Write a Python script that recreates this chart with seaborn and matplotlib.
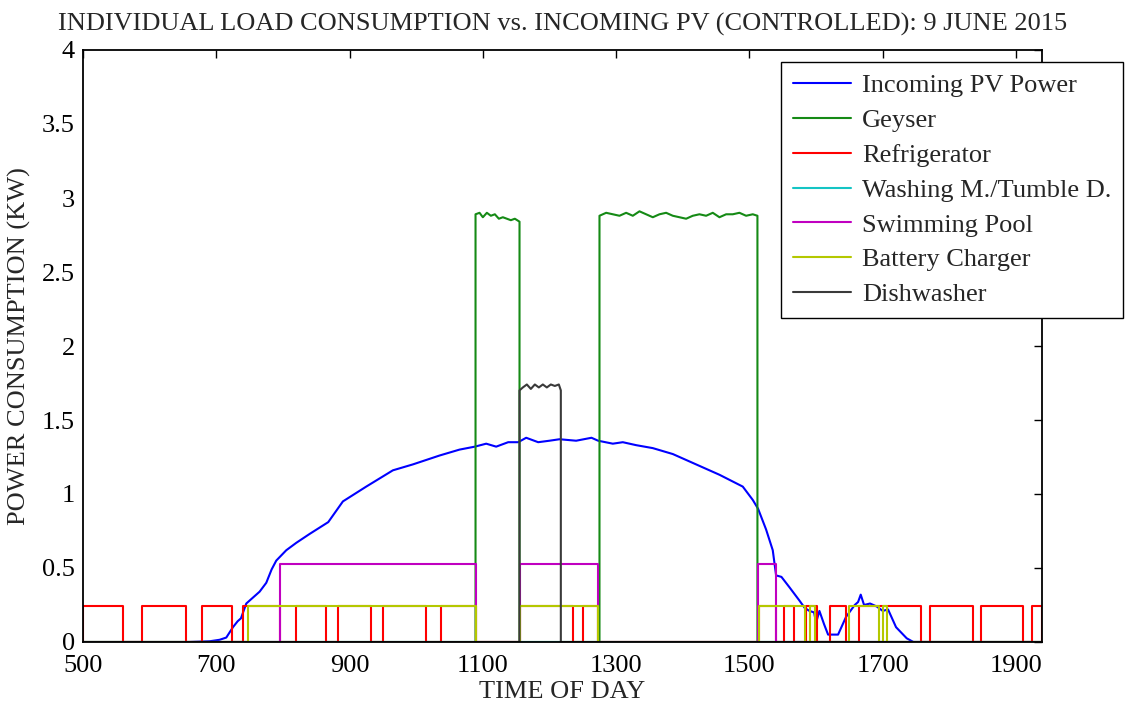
import matplotlib
matplotlib.use("Agg")
import matplotlib.pyplot as plt
import pandas as pd
import seaborn as sns

# ---------------------------------------------------------------------------
# Measured data, 9 June 2015 (time of day as HHMM-style number, power in kW)
# ---------------------------------------------------------------------------
t_start, t_end = 500, 1939

# Incoming PV power
pv_time = [660, 690, 705, 715, 725, 732, 737, 745, 755, 765, 775, 783, 790,
           805, 820, 840, 868, 890, 925, 965, 995, 1035, 1065, 1088, 1105,
           1120, 1138, 1153, 1165, 1183, 1200, 1215, 1240, 1263, 1273, 1295,
           1310, 1330, 1355, 1385, 1415, 1455, 1490, 1505, 1513, 1525, 1535,
           1540, 1548, 1560, 1575, 1583, 1590, 1597, 1600, 1605, 1612, 1618,
           1633, 1645, 1658, 1663, 1667, 1672, 1681, 1691, 1700, 1708, 1720,
           1736, 1746, 1760]
pv_kw = [0.0, 0.005, 0.015, 0.03, 0.10, 0.14, 0.16, 0.26, 0.30, 0.34, 0.40,
         0.49, 0.55, 0.62, 0.67, 0.73, 0.81, 0.95, 1.05, 1.16, 1.20, 1.26,
         1.30, 1.32, 1.34, 1.32, 1.35, 1.35, 1.38, 1.35, 1.36, 1.37, 1.36,
         1.38, 1.36, 1.34, 1.35, 1.33, 1.31, 1.27, 1.21, 1.13, 1.05, 0.96,
         0.90, 0.76, 0.62, 0.45, 0.44, 0.37, 0.28, 0.23, 0.21, 0.20, 0.13,
         0.21, 0.12, 0.05, 0.05, 0.17, 0.25, 0.27, 0.32, 0.25, 0.26, 0.24,
         0.21, 0.22, 0.10, 0.025, 0.0, 0.0]

# Geyser: two heating periods, readings while on
geyser_time_1 = [1089, 1095, 1100, 1106, 1112, 1118, 1124, 1130, 1136, 1142,
                 1148, 1155]
geyser_kw_1 = [2.89, 2.90, 2.87, 2.90, 2.88, 2.89, 2.86, 2.87, 2.86, 2.85,
               2.86, 2.84]
geyser_time_2 = [1275, 1285, 1295, 1305, 1315, 1325, 1335, 1345, 1355, 1365,
                 1375, 1385, 1395, 1405, 1415, 1425, 1435, 1445, 1455, 1465,
                 1475, 1485, 1495, 1505, 1512]
geyser_kw_2 = [2.88, 2.90, 2.89, 2.88, 2.90, 2.88, 2.91, 2.89, 2.87, 2.89,
               2.90, 2.88, 2.87, 2.86, 2.88, 2.89, 2.88, 2.90, 2.87, 2.89,
               2.89, 2.90, 2.88, 2.89, 2.88]

# Refrigerator compressor cycles (on from, on until)
fridge_on = [(500, 560), (588, 655), (678, 724), (740, 796), (820, 865),
             (883, 932), (950, 1014), (1037, 1089), (1155, 1235),
             (1251, 1273), (1514, 1540), (1552, 1567), (1585, 1601),
             (1621, 1645), (1664, 1758), (1771, 1835), (1848, 1910),
             (1924, 1939)]
fridge_kw = 0.24

# Washing machine / tumble dryer: not run on this day
washing_on = []
washing_kw = 0.0

# Swimming pool pump
pool_on = [(796, 1089), (1155, 1273), (1513, 1540)]
pool_kw = 0.53

# Battery charger
battery_on = [(748, 1089), (1155, 1273), (1514, 1583), (1591, 1598),
              (1650, 1694), (1701, 1706)]
battery_kw = 0.24

# Dishwasher
dish_time = [1155, 1160, 1166, 1172, 1178, 1184, 1190, 1196, 1202, 1208,
             1214, 1217]
dish_kw = [1.70, 1.72, 1.74, 1.71, 1.74, 1.72, 1.74, 1.72, 1.74, 1.73,
           1.74, 1.70]

x_ticks = [500, 700, 900, 1100, 1300, 1500, 1700, 1900]
y_ticks = [0, 0.5, 1, 1.5, 2, 2.5, 3, 3.5, 4]
y_tick_labels = ["0", "0.5", "1", "1.5", "2", "2.5", "3", "3.5", "4"]


def trace_from_blocks(blocks):
    """Polyline for a load that is either off (0 kW) or running with readings."""
    xs, ys = [t_start], [0.0]
    for times, values in blocks:
        xs += [times[0]] + list(times) + [times[-1]]
        ys += [0.0] + list(values) + [0.0]
    xs.append(t_end)
    ys.append(0.0)
    return pd.DataFrame({"time": xs, "kw": ys})


def constant_blocks(intervals, level):
    return [([a, b], [level, level]) for a, b in intervals]


series = [
    ("Incoming PV Power", pd.DataFrame({"time": pv_time, "kw": pv_kw}), "#0000ff"),
    ("Geyser", trace_from_blocks([(geyser_time_1, geyser_kw_1),
                                  (geyser_time_2, geyser_kw_2)]), "#158a15"),
    ("Refrigerator", trace_from_blocks(constant_blocks(fridge_on, fridge_kw)), "#ff0000"),
    ("Washing M./Tumble D.", trace_from_blocks(constant_blocks(washing_on, washing_kw)), "#14c4c4"),
    ("Swimming Pool", trace_from_blocks(constant_blocks(pool_on, pool_kw)), "#c000c0"),
    ("Battery Charger", trace_from_blocks(constant_blocks(battery_on, battery_kw)), "#b4c800"),
    ("Dishwasher", trace_from_blocks([(dish_time, dish_kw)]), "#3a3a3a"),
]

sns.set_style("white")
plt.rcParams["font.family"] = ["Liberation Serif", "DejaVu Serif"]

FS = 19

fig = plt.figure(figsize=(11.29, 7.04), dpi=100)
ax = fig.add_axes([83 / 1129, 1 - 642 / 704, (1042 - 83) / 1129, (642 - 50) / 704])

for name, df, color in series:
    sns.lineplot(data=df, x="time", y="kw", ax=ax, estimator=None, sort=False,
                 color=color, linewidth=1.5, label=name)

ax.set_xlim(t_start, t_end)
ax.set_ylim(0, 4)
ax.set_xticks(x_ticks)
ax.set_xticklabels([str(t) for t in x_ticks])
ax.set_yticks(y_ticks)
ax.set_yticklabels(y_tick_labels)
ax.tick_params(direction="in", length=6, width=1, top=True, right=True,
               labelsize=FS, colors="black")
ax.tick_params(axis="x", pad=9)
ax.tick_params(axis="y", pad=6)
for spine in ax.spines.values():
    spine.set_color("black")
    spine.set_linewidth(1.3)
    spine.set_zorder(10)

ax.set_xlabel("TIME OF DAY", fontsize=FS, labelpad=3)
ax.set_ylabel("POWER CONSUMPTION (KW)", fontsize=FS, labelpad=8)
ax.set_title("INDIVIDUAL LOAD CONSUMPTION vs. INCOMING PV (CONTROLLED): 9 JUNE 2015",
             fontsize=FS, pad=14)

leg = ax.legend(loc="upper left", bbox_to_anchor=(781 / 1129, 1 - 62 / 704),
                bbox_transform=fig.transFigure, borderaxespad=0, fontsize=FS,
                handlelength=2.2, handletextpad=0.42, labelspacing=0.43,
                borderpad=0.45, fancybox=False, framealpha=1)
leg.get_frame().set_edgecolor("black")
leg.get_frame().set_linewidth(1.0)
leg.set_zorder(20)

fig.savefig("out.png", dpi=100)
